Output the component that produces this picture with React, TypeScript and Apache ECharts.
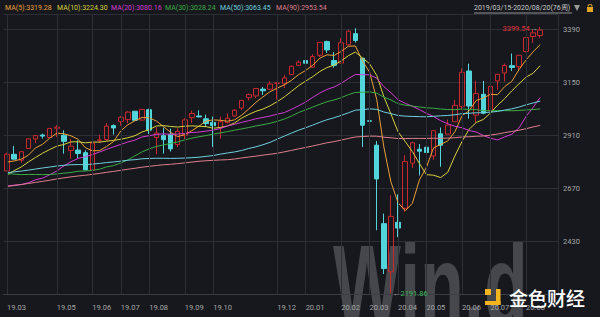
import React, { useEffect, useRef } from 'react';
import * as echarts from 'echarts';

// Weekly bars, 2019/03/15 - 2020/08/20 (76 weeks)
const weeks = ['2019-03-15','2019-03-22','2019-03-29','2019-04-05','2019-04-12','2019-04-18','2019-04-26','2019-05-03','2019-05-10','2019-05-17','2019-05-24','2019-05-31','2019-06-07','2019-06-14','2019-06-21','2019-06-28','2019-07-05','2019-07-12','2019-07-19','2019-07-26','2019-08-02','2019-08-09','2019-08-16','2019-08-23','2019-08-30','2019-09-06','2019-09-13','2019-09-20','2019-09-27','2019-10-04','2019-10-11','2019-10-18','2019-10-25','2019-11-01','2019-11-08','2019-11-15','2019-11-22','2019-11-29','2019-12-06','2019-12-13','2019-12-20','2019-12-27','2020-01-03','2020-01-10','2020-01-17','2020-01-24','2020-01-31','2020-02-07','2020-02-14','2020-02-21','2020-02-28','2020-03-06','2020-03-13','2020-03-20','2020-03-27','2020-04-03','2020-04-09','2020-04-17','2020-04-24','2020-05-01','2020-05-08','2020-05-15','2020-05-22','2020-05-29','2020-06-05','2020-06-12','2020-06-19','2020-06-26','2020-07-02','2020-07-10','2020-07-17','2020-07-24','2020-07-31','2020-08-07','2020-08-14','2020-08-20'];

const opens = [2747.6,2822.6,2796.0,2848.6,2892.2,2910.0,2898.8,2940.6,2908.9,2840.2,2841.9,2830.0,2751.5,2885.8,2889.8,2952.7,2971.4,2979.8,3017.8,2977.7,3024.5,2898.1,2907.1,2913.5,2866.7,2909.0,2988.4,2996.4,2983.5,2967.1,2944.2,2965.8,2996.5,3032.1,3079.0,3087.0,3117.9,3117.4,3143.9,3141.9,3183.6,3225.5,3247.2,3217.6,3271.1,3333.1,3247.2,3235.7,3318.3,3369.0,3257.6,2974.3,2863.9,2508.6,2290.7,2514.9,2578.3,2782.5,2845.6,2854.7,2815.0,2915.5,2913.9,2970.0,3038.8,3199.9,3000.0,3094.4,3018.6,3155.3,3191.0,3224.0,3219.8,3288.3,3356.0,3360.5];
const highs = [2830.7,2860.3,2836.0,2893.4,2910.5,2916.1,2939.9,2954.1,2931.3,2892.2,2885.5,2840.5,2885.0,2910.6,2964.2,2958.1,2995.8,3017.8,3017.8,3028.0,3029.2,2945.5,2943.3,2939.1,2940.4,2985.9,3020.0,3022.0,3002.4,2993.3,2993.3,3008.3,3027.4,3066.9,3097.8,3120.5,3127.6,3154.3,3150.6,3182.7,3225.7,3247.9,3258.1,3275.6,3329.9,3337.8,3285.9,3348.0,3385.1,3393.5,3259.8,3136.7,2882.6,2553.9,2637.0,2641.4,2818.6,2879.2,2869.0,2964.0,2932.0,2944.0,2980.3,3068.7,3211.7,3233.1,3155.5,3155.0,3165.8,3186.0,3233.0,3279.3,3272.0,3352.5,3387.9,3399.54];
const lows = [2746.9,2800.3,2785.0,2848.6,2873.3,2893.8,2898.2,2900.5,2825.4,2801.4,2805.5,2750.5,2728.8,2873.2,2883.2,2912.0,2952.2,2963.4,2975.9,2975.8,2914.1,2822.1,2825.7,2835.0,2856.0,2891.9,2964.0,2990.0,2946.0,2856.0,2892.6,2963.0,2991.0,3023.2,3066.5,3077.0,3091.4,3117.4,3070.3,3123.0,3183.0,3223.0,3212.0,3214.6,3263.0,3281.5,3214.6,3235.7,3315.0,3328.5,2855.8,2901.5,2478.9,2280.5,2191.86,2447.5,2562.0,2761.0,2727.1,2830.0,2797.9,2766.6,2913.9,2970.0,3025.0,2984.0,2965.7,3004.0,2999.0,3115.0,3152.0,3200.0,3200.0,3284.0,3327.0,3351.0];
const closes = [2822.48,2800.71,2834.40,2892.74,2907.41,2905.03,2939.88,2945.64,2881.40,2859.53,2826.06,2752.06,2873.34,2886.98,2950.46,2941.76,2990.41,3013.77,2976.61,3025.86,2932.05,2918.65,2888.68,2847.11,2926.46,2978.71,3007.39,2992.07,2961.79,2952.01,2970.27,2986.20,3022.55,3066.91,3093.08,3120.46,3110.29,3140.98,3145.91,3168.80,3221.22,3240.02,3234.85,3265.35,3329.62,3295.47,3225.52,3327.71,3380.16,3337.75,2954.22,2972.37,2711.02,2304.92,2541.47,2488.65,2789.82,2874.56,2836.74,2830.71,2929.80,2863.70,2955.45,3044.31,3193.93,3041.31,3097.74,3009.05,3130.01,3185.04,3224.73,3215.63,3271.12,3351.28,3372.85,3385.51];
// weekly closes before the window (2017/06/30 - 2019/03/08), needed for the moving averages
const priorCloses = [2423.41,2425.18,2459.27,2472.54,2472.10,2476.83,2441.32,2425.55,2443.05,2476.55,2461.43,2500.23,2502.22,2519.36,2549.33,2553.17,2575.21,2581.07,2587.84,2582.30,2578.85,2602.42,2642.22,2651.50,2675.81,2683.34,2673.61,2743.15,2786.24,2810.30,2872.87,2762.13,2619.55,2732.22,2747.30,2691.25,2786.57,2752.01,2588.26,2640.87,2604.47,2656.30,2670.14,2669.91,2663.42,2727.72,2712.97,2721.33,2734.62,2779.03,2779.66,2754.88,2718.37,2759.82,2801.31,2801.83,2818.82,2840.35,2833.28,2850.13,2874.69,2901.52,2871.68,2904.98,2929.67,2913.98,2885.57,2767.13,2767.78,2658.69,2723.06,2781.01,2736.27,2632.56,2760.17,2633.08,2599.95,2416.62,2485.74,2531.94,2596.26,2670.71,2664.76,2706.53,2707.88,2775.60,2792.67,2803.69,2743.07];

const maPeriods = [5, 10, 20, 30, 50, 90];
const maColors = ['#eaa03a', '#d8d23e', '#d23cd2', '#3cab45', '#6fd0de', '#df7f8c'];
const maLegendValues = ['3319.28', '3224.30', '3080.16', '3028.24', '3063.45', '2953.54'];
const legendX = [5, 57, 111, 165, 220, 276];

const monthTickLabels = ['19.03','19.05','19.06','19.07','19.08','19.09','19.10','19.12','20.01','20.02','20.03','20.04','20.05','20.06','20.07','20.08'];
const yTickLabels = [2430, 2670, 2910, 3150, 3390];
const yMin = 2190;
const yMax = 3458;
const rangeText = '2019/03/15-2020/08/20(76周)';

const BG = '#16181d';
const GRIDC = '#2c2f36';
const UP = '#c8282e';
const DOWN = '#52d6db';
const FONT = 'Roboto, "Noto Sans", sans-serif';

const cats = [...weeks, '', ''];
const ym = (d: string) => (d ? d.slice(2, 4) + '.' + d.slice(5, 7) : '');
const isMonthTick = (i: number) => {
  const d = cats[i];
  if (!d) return false;
  if (i > 0 && ym(cats[i - 1]) === ym(d)) return false;
  return monthTickLabels.includes(ym(d));
};

function movingAverage(period: number) {
  const all = priorCloses.concat(closes);
  const off = priorCloses.length;
  return closes.map((_, i) => {
    const end = off + i;
    const start = end - period + 1;
    if (start < 0) return '-';
    let s = 0;
    for (let k = start; k <= end; k++) s += all[k];
    return +(s / period).toFixed(2);
  });
}

export default function App() {
  const ref = useRef<HTMLDivElement>(null);
  useEffect(() => {
    document.body.style.margin = '0';
    const chart = echarts.init(ref.current!, null, { renderer: 'svg' });
    const kData = weeks.map((_, i) => [opens[i], closes[i], lows[i], highs[i]]);
    let hiIdx = 0, loIdx = 0;
    highs.forEach((v, i) => { if (v > highs[hiIdx]) hiIdx = i; });
    lows.forEach((v, i) => { if (v < lows[loIdx]) loIdx = i; });

    const maSeries = maPeriods.map((p, k) => ({
      name: 'MA' + p,
      type: 'line',
      data: movingAverage(p),
      yAxisIndex: 0,
      symbol: 'none',
      z: 3,
      lineStyle: { width: 1, color: maColors[k] },
      itemStyle: { color: maColors[k] },
    }));

    const legendTexts = maPeriods.map((p, k) => ({
      type: 'text',
      x: legendX[k],
      y: 8,
      style: {
        text: `MA(${p}):${maLegendValues[k]}`,
        fill: maColors[k],
        font: `7px ${FONT}`,
        verticalAlign: 'middle',
      },
    }));

    chart.setOption({
      animation: false,
      backgroundColor: BG,
      grid: { left: 3.5, right: 42, top: 14, bottom: 23 },
      xAxis: {
        type: 'category',
        data: cats,
        boundaryGap: true,
        z: 5,
        axisLine: { lineStyle: { color: '#3a3d44' } },
        axisTick: { show: false },
        axisLabel: {
          interval: (i: number) => isMonthTick(i),
          formatter: (v: string) => ym(v),
          color: '#a6a6a6',
          fontSize: 7.5,
          fontFamily: FONT,
          align: 'left',
          margin: 9,
        },
        splitLine: {
          show: true,
          interval: (i: number) => isMonthTick(i),
          alignWithLabel: true,
          lineStyle: { color: GRIDC, width: 1 },
        },
      },
      yAxis: [
        {
          type: 'value',
          min: yMin,
          max: yMax,
          show: false,
          splitLine: { show: false },
        },
        {
          type: 'value',
          position: 'right',
          min: 0,
          max: yMax - yMin,
          interval: 240,
          axisLine: { show: true, lineStyle: { color: GRIDC } },
          axisTick: { show: false },
          axisLabel: {
            color: '#a6a6a6',
            fontSize: 7.5,
            fontFamily: FONT,
            margin: 5,
            formatter: (v: number) => (yTickLabels.includes(v + yMin) ? String(v + yMin) : ''),
          },
          splitLine: { show: true, lineStyle: { color: GRIDC, width: 1 } },
        },
      ],
      series: [
        {
          type: 'candlestick',
          data: kData,
          yAxisIndex: 0,
          barWidth: 5,
          z: 2,
          itemStyle: {
            color: 'transparent',
            color0: DOWN,
            borderColor: UP,
            borderColor0: DOWN,
            borderWidth: 1,
          },
          markPoint: {
            symbol: 'circle',
            symbolSize: 1,
            itemStyle: { color: 'transparent' },
            data: [
              {
                coord: [weeks[hiIdx], highs[hiIdx]],
                label: {
                  show: true,
                  position: 'left',
                  distance: 2,
                  offset: [0, 2],
                  formatter: `{v|${highs[hiIdx].toFixed(2)}}{a|→}`,
                  rich: {
                    v: { color: '#e0343a', fontSize: 7.5, fontFamily: FONT },
                    a: { color: '#b8b8b8', fontSize: 8, fontFamily: FONT },
                  },
                },
              },
              {
                coord: [weeks[loIdx], lows[loIdx]],
                label: {
                  show: true,
                  position: 'right',
                  distance: 1,
                  formatter: `{a|←}{v|${lows[loIdx].toFixed(2)}}`,
                  rich: {
                    v: { color: '#38b458', fontSize: 7.5, fontFamily: FONT },
                    a: { color: '#9aa09a', fontSize: 8, fontFamily: FONT },
                  },
                },
              },
            ],
          },
        },
        ...maSeries,
      ],
      graphic: [
        {
          type: 'text',
          x: 333,
          y: 285,
          scaleX: 0.63,
          z: -1,
          silent: true,
          style: {
            text: 'Win.d',
            fill: 'rgba(140,142,148,0.4)',
            font: 'bold 114px "Liberation Sans", Arial, sans-serif',
            verticalAlign: 'middle',
          },
        },
        ...legendTexts,
        {
          type: 'text',
          x: 474,
          y: 8,
          style: {
            text: rangeText,
            fill: '#c8c8c8',
            font: `7px ${FONT}`,
            verticalAlign: 'middle',
          },
        },
        { type: 'line', shape: { x1: 474, y1: 13, x2: 572, y2: 13 }, style: { stroke: '#c8c8c8', lineWidth: 0.7 } },
        { type: 'polygon', shape: { points: [[574, 5], [580, 5], [577, 11]] }, style: { fill: '#9a9a9a' } },
        { type: 'arc', shape: { cx: 590, cy: 6.5, r: 2, startAngle: Math.PI, endAngle: 2 * Math.PI }, style: { stroke: '#e5a823', lineWidth: 1.2, fill: 'none' } },
        { type: 'rect', shape: { x: 587, y: 7, width: 6, height: 5 }, style: { fill: '#e5a823' } },
        {
          type: 'group',
          z: 100,
          children: [
            { type: 'rect', z: 100, shape: { x: 485, y: 289, width: 6, height: 6 }, style: { fill: '#f4b41e' } },
            { type: 'rect', z: 100, shape: { x: 496, y: 289, width: 4.5, height: 16 }, style: { fill: '#f4b41e' } },
            { type: 'rect', z: 100, shape: { x: 485, y: 301, width: 15.5, height: 4 }, style: { fill: '#f4b41e' } },
            {
              type: 'text',
              z: 100,
              x: 509,
              y: 297,
              style: {
                text: '金色财经',
                fill: '#ffffff',
                font: '500 19px "Noto Sans CJK SC", sans-serif',
                verticalAlign: 'middle',
              },
            },
          ],
        },
      ],
    });
    return () => chart.dispose();
  }, []);
  return <div ref={ref} style={{ position: 'fixed', left: 0, top: 0, width: 600, height: 317 }} />;
}
